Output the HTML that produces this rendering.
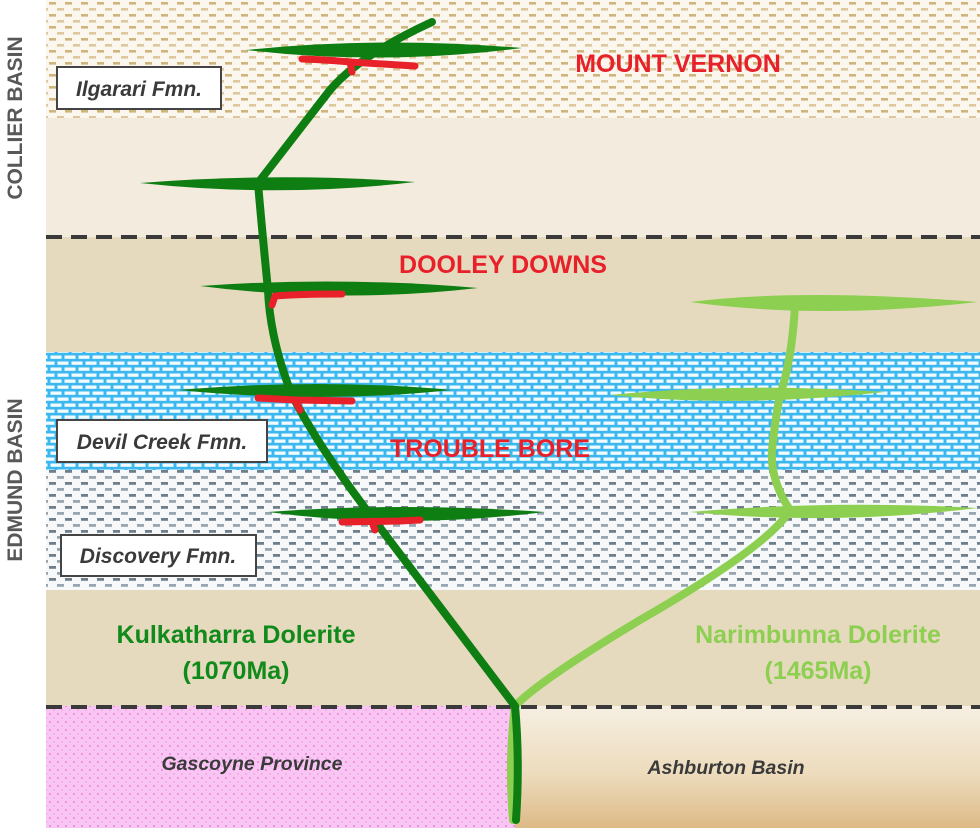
<!DOCTYPE html>
<html><head><style>
html,body{margin:0;padding:0;background:#fff;}
svg{display:block;font-family:"Liberation Sans",Arial,sans-serif;}
</style></head><body>
<svg width="980" height="828" viewBox="0 0 980 828" xmlns="http://www.w3.org/2000/svg">
<defs>
<pattern id="tanDash" width="16" height="12" patternUnits="userSpaceOnUse">
<rect width="16" height="12" fill="#fbf7ee"/>
<rect x="1" y="2" width="7" height="2.6" fill="#cfb47c"/>
<rect x="9" y="8" width="7" height="2.6" fill="#dcc89c"/>
</pattern>
<pattern id="greyDash" width="16" height="12" patternUnits="userSpaceOnUse">
<rect width="16" height="12" fill="#f6f8f9"/>
<rect x="1" y="2" width="7" height="2.8" fill="#6f7e8a"/>
<rect x="9" y="8" width="7" height="2.8" fill="#98a6b1"/>
</pattern>
<pattern id="brick" width="14" height="12" patternUnits="userSpaceOnUse">
<rect width="14" height="12" fill="#3db8ef"/>
<rect x="1.5" y="1.5" width="11" height="3.3" fill="#f2fbff"/>
<rect x="-5.5" y="7.5" width="11" height="3.3" fill="#f2fbff"/>
<rect x="8.5" y="7.5" width="11" height="3.3" fill="#f2fbff"/>
</pattern>
<pattern id="pinkDot" width="8" height="8" patternUnits="userSpaceOnUse">
<rect width="8" height="8" fill="#f9c6f4"/>
<circle cx="2" cy="2" r="1" fill="#ee7fde"/>
<circle cx="6" cy="6" r="0.9" fill="#f39ae7"/>
</pattern>
<linearGradient id="ash" x1="0" y1="0" x2="0" y2="1">
<stop offset="0" stop-color="#f6efe2"/>
<stop offset="0.55" stop-color="#eddcbd"/>
<stop offset="1" stop-color="#ddba86"/>
</linearGradient>
</defs>

<rect x="46" y="0" width="934" height="118" fill="url(#tanDash)"/>
<rect x="46" y="118" width="934" height="119" fill="#f3ebdd"/>
<rect x="46" y="237" width="934" height="115" fill="#e6dabe"/>
<rect x="46" y="352" width="934" height="118" fill="url(#brick)"/>
<rect x="46" y="470" width="934" height="120" fill="url(#greyDash)"/>
<rect x="46" y="590" width="934" height="116" fill="#e6dabe"/>
<rect x="46" y="706" width="469" height="122" fill="url(#pinkDot)"/>
<rect x="515" y="706" width="465" height="122" fill="url(#ash)"/>

<line x1="46" y1="237" x2="980" y2="237" stroke="#3a3a3a" stroke-width="4" stroke-dasharray="16,9"/>
<line x1="46" y1="707" x2="980" y2="707" stroke="#3a3a3a" stroke-width="4" stroke-dasharray="16,9"/>

<text transform="translate(22,118) rotate(-90)" text-anchor="middle" font-size="21" font-weight="bold" fill="#585858">COLLIER BASIN</text>
<text transform="translate(22,480) rotate(-90)" text-anchor="middle" font-size="21" font-weight="bold" fill="#585858">EDMUND BASIN</text>

<g stroke="#444" stroke-width="2" fill="#fff">
<rect x="57" y="67" width="164" height="42"/>
<rect x="57" y="420" width="210" height="42"/>
<rect x="61" y="535" width="195" height="41"/>
</g>
<g font-size="21" font-style="italic" font-weight="bold" fill="#3a3a3a" text-anchor="middle">
<text x="139" y="96">Ilgarari Fmn.</text>
<text x="162" y="449">Devil Creek Fmn.</text>
<text x="158" y="563">Discovery Fmn.</text>
</g>
<g font-size="19.5" font-style="italic" font-weight="bold" fill="#3a3a3a" text-anchor="middle">
<text x="252" y="770">Gascoyne Province</text>
<text x="726" y="774">Ashburton Basin</text>
</g>

<!-- light green (Narimbunna) -->
<g fill="#8dcf50">
<path d="M690,302 Q800,288 978,302 Q820,320 690,302Z"/>
<path d="M610,395 Q740,382 885,392 Q740,408 610,395Z"/>
<path d="M690,512 Q830,500 978,508 Q830,526 690,512Z"/>
</g>
<path d="M513,820 Q508,760 515,706 Q540,680 640,620 Q770,545 790,510 Q770,480 772,450 Q775,420 780,395 Q792,360 795,305" fill="none" stroke="#8dcf50" stroke-width="8" stroke-linecap="round"/>

<!-- dark green (Kulkatharra) -->
<g fill="#0e7d12">
<path d="M246,50 Q380,36 522,48 Q380,66 246,50Z"/>
<path d="M140,183 Q280,172 415,182 Q280,198 140,183Z"/>
<path d="M200,286 Q340,276 478,288 Q340,304 200,286Z"/>
<path d="M178,390 Q320,378 452,390 Q320,404 178,390Z"/>
<path d="M268,512 Q400,502 545,512 Q400,530 268,512Z"/>
</g>
<path d="M516,820 Q520,760 515,706 L378,525 Q320,450 292,395 Q270,340 268,290 Q262,230 258,183 L330,90 Q360,55 432,22" fill="none" stroke="#0e7d12" stroke-width="8" stroke-linecap="round" stroke-linejoin="round"/>

<!-- red -->
<g fill="none" stroke="#e8202a" stroke-width="7" stroke-linecap="round" stroke-linejoin="round">
<path d="M302,59 Q330,60 350,62 L415,66 M350,62 L352,72"/>
<path d="M272,305 L275,296 Q300,294 342,294"/>
<path d="M258,398 L295,400 L300,410 M295,400 L352,401"/>
<path d="M342,522 L400,521 L420,520 M372,522 L375,530"/>
</g>

<g font-weight="bold" text-anchor="middle" fill="#e8202a" font-size="25">
<text x="678" y="72">MOUNT VERNON</text>
<text x="503" y="273">DOOLEY DOWNS</text>
<text x="490" y="457">TROUBLE BORE</text>
</g>
<g font-weight="bold" text-anchor="middle" font-size="25">
<text x="236" y="643" fill="#108a1a">Kulkatharra Dolerite</text>
<text x="236" y="679" fill="#108a1a">(1070Ma)</text>
<text x="818" y="643" fill="#8dcf50">Narimbunna Dolerite</text>
<text x="818" y="679" fill="#8dcf50">(1465Ma)</text>
</g>
</svg>
</body></html>
